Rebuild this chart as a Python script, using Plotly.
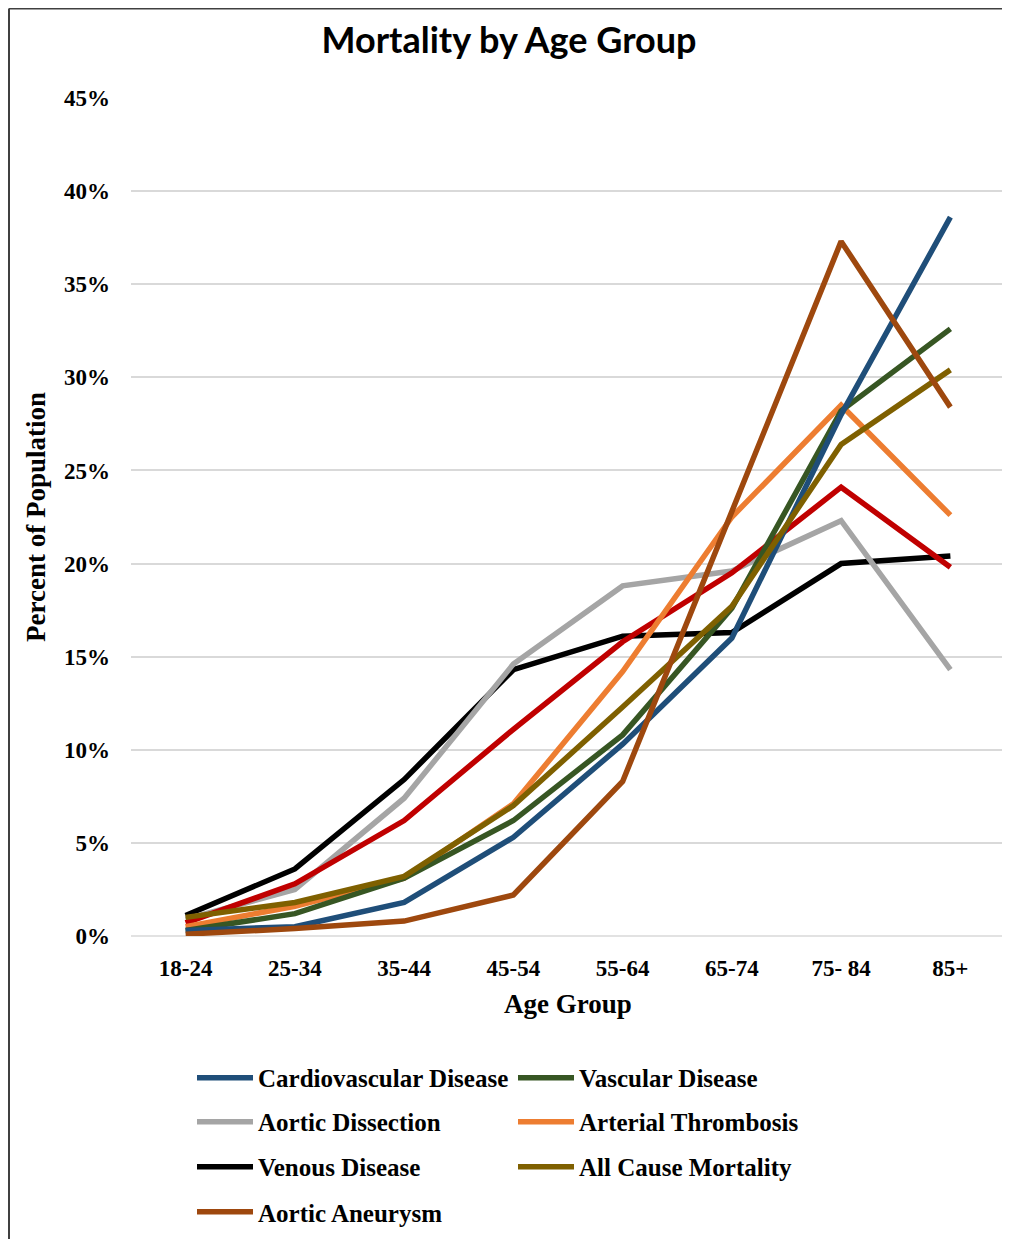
import plotly.graph_objects as go

age_groups = ["18-24", "25-34", "35-44", "45-54", "55-64", "65-74", "75- 84", "85+"]

cardiovascular = [0.3, 0.5, 1.8, 5.3, 10.3, 16.0, 28.0, 38.6]
vascular = [0.3, 1.2, 3.1, 6.2, 10.8, 17.6, 28.2, 32.6]
dissection = [0.9, 2.5, 7.4, 14.6, 18.8, 19.6, 22.3, 14.3]
thrombosis = [0.5, 1.6, 3.1, 7.1, 14.2, 22.5, 28.5, 22.6]
venous = [1.1, 3.6, 8.4, 14.3, 16.1, 16.3, 20.0, 20.4]
all_cause = [1.0, 1.8, 3.2, 7.0, 12.3, 17.7, 26.4, 30.4]
aneurysm = [0.1, 0.4, 0.8, 2.2, 8.3, 22.8, 37.3, 28.4]
unlabeled_red = [0.7, 2.8, 6.2, 11.1, 15.8, 19.5, 24.1, 19.8]

y_ticks = [0, 5, 10, 15, 20, 25, 30, 35, 40, 45]
y_tick_labels = ["0%", "5%", "10%", "15%", "20%", "25%", "30%", "35%", "40%", "45%"]

series = [
    ("Venous Disease", venous, "#000000", "legend3"),
    ("Aortic Dissection", dissection, "#A5A5A5", "legend2"),
    (None, unlabeled_red, "#C00000", None),
    ("Arterial Thrombosis", thrombosis, "#ED7D31", "legend2"),
    ("Vascular Disease", vascular, "#375623", "legend"),
    ("Cardiovascular Disease", cardiovascular, "#1F4E79", "legend"),
    ("All Cause Mortality", all_cause, "#7F6000", "legend3"),
    ("Aortic Aneurysm", aneurysm, "#9E480E", "legend4"),
]
legend_order = ["Cardiovascular Disease", "Vascular Disease", "Aortic Dissection",
                "Arterial Thrombosis", "Venous Disease", "All Cause Mortality", "Aortic Aneurysm"]

fig = go.Figure()
for name, vals, color, leg in series:
    tr = dict(x=age_groups, y=vals, mode="lines",
              line=dict(color=color, width=5.5),
              hoverinfo="x+y")
    if name is None:
        tr["showlegend"] = False
    else:
        tr["name"] = name
        tr["legend"] = leg
        tr["legendrank"] = legend_order.index(name) + 1
    fig.add_trace(go.Scatter(**tr))

serif = "Liberation Serif, Times New Roman, serif"
leg_common = dict(orientation="h", xanchor="left", yanchor="middle",
                  entrywidth=250, entrywidthmode="pixels", itemwidth=56,
                  font=dict(family=serif, size=25, color="#000000", weight="bold"),
                  bgcolor="rgba(0,0,0,0)", itemclick=False, itemdoubleclick=False,
                  traceorder="normal")
lx = 0.0698
fig.update_layout(
    width=1002, height=1231,
    margin=dict(l=123, r=5, t=90, b=302),
    paper_bgcolor="white", plot_bgcolor="white",
    title=dict(text="<b>Mortality by Age Group</b>", x=0.5, xanchor="center",
               y=1 - 32 / 1231, yanchor="middle",
               font=dict(family="Lato, Open Sans, sans-serif", size=36, color="#000000")),
    xaxis=dict(title=dict(text="<b>Age Group</b>", font=dict(family=serif, size=27, color="#000000"), standoff=14),
               tickfont=dict(family=serif, size=23, color="#000000"),
               tickprefix="<b>", ticksuffix="</b>",
               showgrid=False, showline=False, zeroline=False, ticks="",
               ticklabelstandoff=16,
               range=[-0.5, 7.5]),
    yaxis=dict(title=dict(text="<b>Percent of Population</b>", font=dict(family=serif, size=27, color="#000000"), standoff=10),
               tickvals=y_ticks, ticktext=["<b>%s</b>" % t for t in y_tick_labels],
               tickfont=dict(family=serif, size=23, color="#000000"),
               range=[0, 45], showgrid=True, gridcolor="#D9D9D9", gridwidth=1.5,
               zeroline=False, showline=False, ticks="", ticklabelstandoff=20),
    legend=dict(x=lx, y=-0.168, **leg_common),
    legend2=dict(x=lx, y=-0.2205, **leg_common),
    legend3=dict(x=lx, y=-0.274, **leg_common),
    legend4=dict(x=lx, y=-0.3278, **leg_common),
    showlegend=True,
)
fig.add_shape(type="line", xref="paper", yref="paper", x0=0, x1=1, y0=0, y1=0,
              line=dict(color="#D9D9D9", width=1.5), layer="below")
# outer frame: top and left edges
fig.add_shape(type="line", xref="paper", yref="paper",
              x0=-122 / 874, x1=1 + 10 / 874, y0=1 + 89.5 / 839, y1=1 + 89.5 / 839,
              line=dict(color="#404040", width=2))
fig.add_shape(type="line", xref="paper", yref="paper",
              x0=-122 / 874, x1=-122 / 874, y0=1 + 89.5 / 839, y1=-310 / 839,
              line=dict(color="#404040", width=2))

fig.write_html("out.html")
